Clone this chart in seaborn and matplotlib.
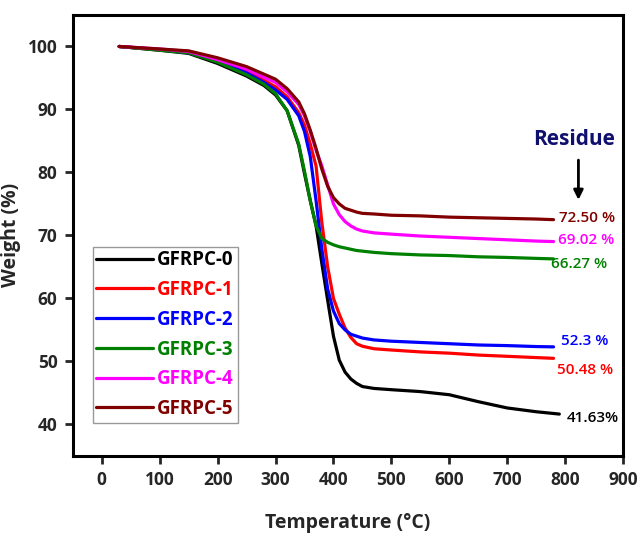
import pandas as pd
import seaborn as sns
import matplotlib.pyplot as plt

# TGA curves
temps = [30, 100, 150, 200, 250, 280, 300, 320, 340, 350, 360, 370, 380, 390, 400,
         410, 420, 430, 440, 450, 470, 500, 550, 600, 650, 700, 750, 780]
temps_0 = temps[:-1] + [790]

gfrpc_0 = [100, 99.4, 98.9, 97.3, 95.3, 93.8, 92.3, 89.8, 84.3, 79.8, 75.5, 71.5, 65.5, 59.7, 54.0,
           50.2, 48.3, 47.2, 46.5, 46.0, 45.7, 45.5, 45.2, 44.7, 43.6, 42.6, 42.0, 41.63]
gfrpc_1 = [100, 99.5, 99.1, 97.8, 96.1, 94.6, 93.6, 92.0, 89.5, 87.5, 84.5, 81.0, 72.0, 65.0, 60.0,
           57.5, 55.3, 53.8, 52.8, 52.4, 52.0, 51.8, 51.5, 51.3, 51.0, 50.8, 50.6, 50.48]
gfrpc_2 = [100, 99.5, 99.0, 97.7, 95.8, 94.3, 93.1, 91.6, 89.0, 86.5, 82.5, 75.5, 67.8, 61.5, 58.0,
           56.0, 55.0, 54.3, 54.0, 53.7, 53.4, 53.2, 53.0, 52.8, 52.6, 52.5, 52.35, 52.3]
gfrpc_3 = [100, 99.4, 99.0, 97.5, 95.5, 94.0, 92.5, 89.8, 84.5, 80.2, 75.5, 71.5, 69.5, 68.9, 68.5,
           68.2, 68.0, 67.8, 67.6, 67.5, 67.3, 67.1, 66.9, 66.8, 66.6, 66.5, 66.35, 66.27]
gfrpc_4 = [100, 99.6, 99.2, 97.9, 96.4, 95.1, 94.3, 92.8, 90.8, 89.0, 86.5, 83.5, 81.0, 78.0, 75.0,
           73.3, 72.2, 71.5, 71.0, 70.7, 70.4, 70.2, 69.9, 69.7, 69.5, 69.3, 69.1, 69.02]
gfrpc_5 = [100, 99.6, 99.3, 98.2, 96.8, 95.6, 94.8, 93.3, 91.2, 89.3, 86.7, 83.8, 80.5, 77.8, 76.0,
           75.0, 74.3, 74.0, 73.7, 73.5, 73.4, 73.2, 73.1, 72.9, 72.8, 72.7, 72.6, 72.5]

samples = ['GFRPC-0', 'GFRPC-1', 'GFRPC-2', 'GFRPC-3', 'GFRPC-4', 'GFRPC-5']
colors = ['#000000', '#ff0000', '#0000ff', '#008000', '#ff00ff', '#800000']
residue_labels = ['41.63%', '50.48 %', '52.3 %', '66.27 %', '69.02 %', '72.50 %']

series = [(temps_0, gfrpc_0), (temps, gfrpc_1), (temps, gfrpc_2),
          (temps, gfrpc_3), (temps, gfrpc_4), (temps, gfrpc_5)]
frames = []
for name, (t, w) in zip(samples, series):
    frames.append(pd.DataFrame({'Temperature': t, 'Weight': w, 'Sample': name}))
data = pd.concat(frames, ignore_index=True)

sns.set_style('ticks')
plt.rcParams['font.family'] = ['Open Sans', 'DejaVu Sans']
plt.rcParams['font.weight'] = 'bold'

fig = plt.figure(figsize=(6.39, 5.35), dpi=100)
ax = fig.add_axes([0.114, 0.148, 0.861, 0.824])

sns.lineplot(data=data, x='Temperature', y='Weight', hue='Sample',
             palette=dict(zip(samples, colors)), linewidth=2.3, legend=False, ax=ax)

ax.set_xlim(-50, 900)
ax.set_ylim(35, 105)
ax.set_xticks(range(0, 901, 100))
ax.set_yticks(range(40, 101, 10))
ax.tick_params(direction='out', length=6, width=2, labelsize=12.5, pad=5)
for lbl in ax.get_xticklabels() + ax.get_yticklabels():
    lbl.set_fontweight('bold')
for sp in ax.spines.values():
    sp.set_visible(True)
    sp.set_linewidth(2.2)
    sp.set_color('black')

ax.set_xlabel('Temperature (°C)', fontsize=14, fontweight='bold', labelpad=17)
ax.set_ylabel('Weight (%)', fontsize=14, fontweight='bold', labelpad=5)

# residue annotations
label_pos = [(802, 41.0), (786, 48.6), (793, 53.3), (776, 65.4), (788, 69.3), (790, 72.7)]
for (x, y), txt, c in zip(label_pos, residue_labels, colors):
    ax.text(x, y, txt, color=c, fontsize=11, fontweight='semibold', ha='left', va='center')

ax.text(815, 85.2, 'Residue', color='#10106e', fontsize=15, fontweight='bold',
        ha='center', va='center')
ax.annotate('', xy=(823, 75.2), xytext=(823, 82.4),
            arrowprops=dict(arrowstyle='-|>', color='black', lw=2, mutation_scale=14))

leg = ax.legend(handles=ax.lines[:6], labels=samples, loc='lower left',
                bbox_to_anchor=(0.036, 0.075), fontsize=13.5, handlelength=3.0,
                labelspacing=0.52, borderpad=0.2, handletextpad=0.25,
                fancybox=False, framealpha=1, edgecolor='#999999', borderaxespad=0)
leg.get_frame().set_linewidth(1)
for txt, c in zip(leg.get_texts(), colors):
    txt.set_color(c)
    txt.set_fontweight('bold')

fig.savefig('out.png', dpi=100)
